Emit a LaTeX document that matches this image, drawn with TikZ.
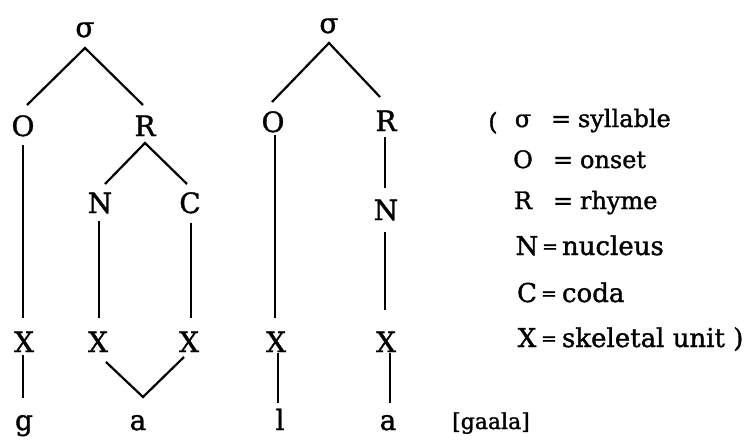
\documentclass[tikz,border=0pt]{standalone}
\usepackage{fontspec}
\setmainfont[FakeBold=1.3]{DejaVu Serif}
\begin{document}
\begin{tikzpicture}[x=1pt,y=-1pt,
  lt/.style={font=\fontsize{28}{30}\selectfont, inner sep=0, outer sep=0, anchor=base},
  lgs/.style={font=\fontsize{24}{28}\selectfont, inner sep=0, outer sep=0, anchor=base},
  lgw/.style={font=\fontsize{24}{28}\selectfont, inner sep=0, outer sep=0, anchor=base west},
  lgsb/.style={font=\fontsize{26}{30}\selectfont, inner sep=0, outer sep=0, anchor=base},
  lgeb/.style={font=\fontsize{19}{22}\selectfont, inner sep=0, outer sep=0, anchor=base},
  lgwb/.style={font=\fontsize{26}{30}\selectfont, inner sep=0, outer sep=0, anchor=base west},
  br/.style={line width=2.2pt}]
\useasboundingbox (0,0) rectangle (751,441);
% tree 1
\node[lt] (s1) at (85,37) {σ};
\node[lt] (O1) at (23,136) {O};
\node[lt] (R1) at (145,136) {R};
\node[lt] (N1) at (100,213) {N};
\node[lt] (C1) at (190,213) {C};
\node[lt] (X1) at (24,352) {X};
\node[lt] (X2) at (98,352) {X};
\node[lt] (X3) at (189,352) {X};
\node[lt] (g1) at (24,430) {g};
\node[lt] (a1) at (138,430) {a};
% tree 2
\node[lt] (s2) at (329,33) {σ};
\node[lt] (O2) at (273,132) {O};
\node[lt] (R2) at (386,131) {R};
\node[lt] (N2) at (386,220) {N};
\node[lt] (X4) at (276,352) {X};
\node[lt] (X5) at (386,352) {X};
\node[lt] (l2) at (280,430) {l};
\node[lt] (a2) at (388,430) {a};
% connectors tree 1
\draw[br] ([xshift=4pt,yshift=31pt]O1.base) -- ([yshift=-11pt]s1.base) -- ([xshift=-2pt,yshift=31pt]R1.base);
\draw[br] ([yshift=-9pt]O1.base) -- ([xshift=-1pt,yshift=34pt]X1.base);
\draw[br] ([xshift=5pt,yshift=29pt]N1.base) -- ([yshift=-7pt]R1.base) -- ([xshift=-3pt,yshift=29pt]C1.base);
\draw[br] ([xshift=-1pt,yshift=-8pt]N1.base) -- ([xshift=1pt,yshift=34pt]X2.base);
\draw[br] ([xshift=1pt,yshift=-10pt]C1.base) -- ([xshift=2pt,yshift=34pt]X3.base);
\draw[br] ([xshift=-1pt,yshift=-3pt]X1.base) -- ([xshift=-1pt,yshift=32pt]g1.base);
\draw[br] ([xshift=8pt,yshift=-10pt]X2.base) -- ([xshift=5pt,yshift=33pt]a1.base) -- ([xshift=-5pt,yshift=-5pt]X3.base);
% connectors tree 2
\draw[br] ([xshift=-1pt,yshift=30pt]O2.base) -- ([yshift=-10pt]s2.base) -- ([xshift=-6pt,yshift=34pt]R2.base);
\draw[br] ([xshift=2pt,yshift=-3pt]O2.base) -- ([xshift=-1pt,yshift=34pt]X4.base);
\draw[br] ([xshift=-1pt,yshift=-6pt]R2.base) -- ([xshift=-1pt,yshift=32pt]N2.base);
\draw[br] ([xshift=-1pt,yshift=-12pt]N2.base) -- ([xshift=-1pt,yshift=42pt]X5.base);
\draw[br] ([xshift=2pt,yshift=-1pt]X4.base) -- ([xshift=-2pt,yshift=27pt]l2.base);
\draw[br] ([xshift=4pt,yshift=-1pt]X5.base) -- ([xshift=2pt,yshift=27pt]a2.base);
% legend
\node[lgs] (par) at (493,130) {(};
\node[lgs] (k1) at (523,127) {σ};
\node[lgs] (e1) at (561,127) {=};
\node[lgw] (w1) at (578,127) {syllable};
\node[lgs] (k2) at (523,168) {O};
\node[lgs] (e2) at (563,168) {=};
\node[lgw] (w2) at (580,168) {onset};
\node[lgs] (k3) at (523,209) {R};
\node[lgs] (e3) at (563,209) {=};
\node[lgw] (w3) at (580,209) {rhyme};
\node[lgsb] (k4) at (527,255) {N};
\node[lgeb] (e4) at (550,253) {=};
\node[lgwb] (w4) at (562,255) {nucleus};
\node[lgsb] (k5) at (527,302) {C};
\node[lgeb] (e5) at (549,300) {=};
\node[lgwb] (w5) at (562,302) {coda};
\node[lgsb] (k6) at (527,347) {X};
\node[lgeb] (e6) at (549,345) {=};
\node[lgwb] (w6) at (562,347) {skeletal unit )};
\node[font=\fontsize{22}{26}\selectfont, inner sep=0, anchor=base west] (gl) at (452,429) {[gaala]};
\end{tikzpicture}
\end{document}
